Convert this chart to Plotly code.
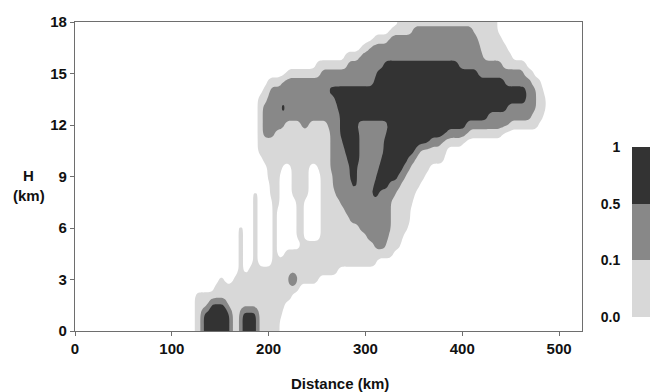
import numpy as np
import plotly.graph_objects as go

# Height levels of the section rows (km); each row holds class runs along distance
H_KM = [i / 2 for i in range(37)]

# Class runs per height level: (from_km, to_km) spans of each concentration class.
# Class 1: 0.0-0.1, class 2: 0.1-0.5, class 3: 0.5-1
LIGHT_RUNS = {
    0.0: [(123, 212)],
    0.5: [(123, 212)],
    1.0: [(123, 213)],
    1.5: [(123, 216)],
    2.0: [(123, 223)],
    2.5: [(145, 232)],
    3.0: [(148, 153), (165, 250)],
    3.5: [(168, 173), (180, 271)],
    4.0: [(168, 173), (183, 188), (203, 312)],
    4.5: [(168, 173), (183, 188), (203, 208), (217, 328)],
    5.0: [(168, 173), (183, 188), (203, 208), (234, 335)],
    5.5: [(168, 173), (183, 188), (203, 208), (228, 237), (255, 339)],
    6.0: [(168, 173), (183, 188), (203, 208), (228, 237), (255, 343)],
    6.5: [(183, 188), (203, 208), (228, 237), (255, 345)],
    7.0: [(183, 188), (203, 208), (228, 237), (255, 346)],
    7.5: [(183, 188), (203, 210), (228, 237), (255, 348)],
    8.0: [(183, 188), (202, 211), (224, 240), (255, 352)],
    8.5: [(201, 212), (224, 241), (254, 357)],
    9.0: [(199, 212), (224, 241), (253, 362)],
    9.5: [(198, 213), (224, 242), (252, 367)],
    10.0: [(193, 380)],
    10.5: [(190, 383)],
    11.0: [(188, 402)],
    11.5: [(188, 442)],
    12.0: [(188, 478)],
    12.5: [(188, 484)],
    13.0: [(188, 486)],
    13.5: [(190, 485)],
    14.0: [(193, 483)],
    14.5: [(200, 480)],
    15.0: [(219, 474)],
    15.5: [(250, 465)],
    16.0: [(280, 452)],
    16.5: [(297, 446)],
    17.0: [(310, 441)],
    17.5: [(327, 437)],
    18.0: [(333, 436)],
}

MID_RUNS = {
    5.0: [(310, 321)],
    5.5: [(302, 323)],
    6.0: [(293, 326)],
    6.5: [(285, 326)],
    7.0: [(279, 325)],
    7.5: [(275, 327)],
    8.0: [(270, 330)],
    8.5: [(267, 335)],
    9.0: [(266, 340)],
    9.5: [(265, 345)],
    10.0: [(265, 350)],
    10.5: [(264, 356)],
    11.0: [(263, 378)],
    11.5: [(194, 207), (263, 406)],
    12.0: [(193, 217), (233, 242), (262, 449)],
    12.5: [(193, 470)],
    13.0: [(194, 475)],
    13.5: [(198, 477)],
    14.0: [(202, 475)],
    14.5: [(213, 472)],
    15.0: [(255, 464)],
    15.5: [(281, 442)],
    16.0: [(293, 421)],
    16.5: [(305, 418)],
    17.0: [(323, 416)],
    17.5: [(348, 411)],
}

DARK_RUNS = {
    0.0: [(132, 160), (171, 189)],
    0.5: [(132, 160), (171, 189)],
    1.0: [(132, 160), (172, 188)],
    1.5: [(139, 156)],
    3.0: [(222, 228)],
    8.0: [(307, 314)],
    8.5: [(287, 292), (309, 324)],
    9.0: [(285, 292), (312, 333)],
    9.5: [(283, 292), (314, 338)],
    10.0: [(281, 293), (316, 343)],
    10.5: [(279, 294), (318, 352)],
    11.0: [(276, 294), (319, 366)],
    11.5: [(274, 293), (321, 383)],
    12.0: [(273, 292), (323, 404)],
    12.5: [(273, 425)],
    13.0: [(212, 218), (272, 447)],
    13.5: [(270, 466)],
    14.0: [(262, 465)],
    14.5: [(309, 443)],
    15.0: [(312, 416)],
    15.5: [(318, 395)],
}

LEVEL_LABELS = ["0.0", "0.1", "0.5", "1"]
LEVEL_COLORS = ["#ffffff", "#d8d8d8", "#888888", "#333333"]

X_TICKS = [0, 100, 200, 300, 400, 500]
H_TICKS = [0, 3, 6, 9, 12, 15, 18]

# sampling grid for the class field (each 0.5 km row covers +-0.25 km)
grid_x = np.arange(0, 520.001, 2.5)
grid_h = np.array([-0.125 + 0.25 * k for k in range(74)])


def class_field():
    z = np.zeros((len(grid_h), len(grid_x)))
    for i, h in enumerate(grid_h):
        row = min(H_KM, key=lambda r: abs(r - h))
        for code, runs in ((1, LIGHT_RUNS), (2, MID_RUNS), (3, DARK_RUNS)):
            for a, b in runs.get(row, []):
                z[i, (grid_x >= a) & (grid_x <= b)] = code
    return z


def soften(a, passes=2):
    # binomial smoothing so class boundaries come out rounded
    for _ in range(passes):
        p = np.pad(a, 1, mode="edge")
        a = 0.25 * p[:-2, 1:-1] + 0.5 * p[1:-1, 1:-1] + 0.25 * p[2:, 1:-1]
        p = np.pad(a, 1, mode="edge")
        a = 0.25 * p[1:-1, :-2] + 0.5 * p[1:-1, 1:-1] + 0.25 * p[1:-1, 2:]
    return a


# stepwise grey scale, one plateau per class code (0..3)
steps = [0, 1 / 6, 0.5, 5 / 6, 1]
scale = []
for k, col in enumerate(LEVEL_COLORS):
    scale.append([steps[k], col])
    scale.append([steps[k + 1], col])

FONT = "Liberation Sans, Arial, Helvetica, sans-serif"
AX_COLOR = "#6e6e6e"
TXT = "#111111"

fig = go.Figure()

fig.add_trace(go.Contour(
    x=grid_x, y=grid_h, z=soften(class_field()),
    zmin=0, zmax=3, autocontour=False,
    contours=dict(start=0.5, end=2.5, size=1, coloring="fill", showlines=False),
    line=dict(width=0),
    colorscale=scale, showscale=False, hoverinfo="skip",
))

# class key drawn as a stacked strip on its own small axis
fig.add_trace(go.Heatmap(
    x=[0], y=[0.5, 1.5, 2.5], z=[[1], [2], [3]],
    zmin=0, zmax=3, colorscale=scale, showscale=False,
    xaxis="x2", yaxis="y2", hoverinfo="skip",
))

tick_font = dict(family=FONT, size=15, color=TXT, weight="bold")

fig.update_layout(
    width=650, height=392,
    margin=dict(l=0, r=0, t=0, b=0),
    paper_bgcolor="white", plot_bgcolor="white",
    font=dict(family=FONT, size=15, color=TXT, weight="bold"),
    showlegend=False,
    xaxis=dict(
        domain=[75 / 650, 582 / 650], range=[0, 523.7],
        tickvals=X_TICKS, ticks="outside", ticklen=4, tickwidth=1, tickcolor=AX_COLOR,
        showline=True, linecolor=AX_COLOR, linewidth=1.3, mirror=True,
        showgrid=False, zeroline=False, tickfont=tick_font, anchor="y",
        automargin=False,
    ),
    yaxis=dict(
        domain=[61 / 392, 370 / 392], range=[0, 18],
        tickvals=H_TICKS, ticks="outside", ticklen=4, tickwidth=1, tickcolor=AX_COLOR,
        showline=True, linecolor=AX_COLOR, linewidth=1.3, mirror=True,
        showgrid=False, zeroline=False, tickfont=tick_font, anchor="x",
        automargin=False,
    ),
    xaxis2=dict(
        domain=[632 / 650, 1.0], range=[-0.5, 0.5], visible=False,
        anchor="y2", fixedrange=True,
    ),
    yaxis2=dict(
        domain=[75 / 392, 245 / 392], range=[0, 3],
        tickvals=[0, 1, 2, 3], ticktext=LEVEL_LABELS,
        ticks="outside", ticklen=8, tickcolor="rgba(0,0,0,0)",
        showline=False, showgrid=False, zeroline=False,
        tickfont=dict(family=FONT, size=14, color=TXT, weight="bold"),
        anchor="x2", side="left", automargin=False, fixedrange=True,
    ),
    annotations=[
        dict(text="Distance (km)", x=340 / 650, y=9 / 392, xref="paper", yref="paper",
             showarrow=False, xanchor="center", yanchor="middle",
             font=dict(family=FONT, size=15, color=TXT, weight="bold")),
        dict(text="H", x=29 / 650, y=217 / 392, xref="paper", yref="paper",
             showarrow=False, xanchor="center", yanchor="middle",
             font=dict(family=FONT, size=15, color=TXT, weight="bold")),
        dict(text="(km)", x=29 / 650, y=197 / 392, xref="paper", yref="paper",
             showarrow=False, xanchor="center", yanchor="middle",
             font=dict(family=FONT, size=15, color=TXT, weight="bold")),
    ],
)

fig.write_html("out.html")
